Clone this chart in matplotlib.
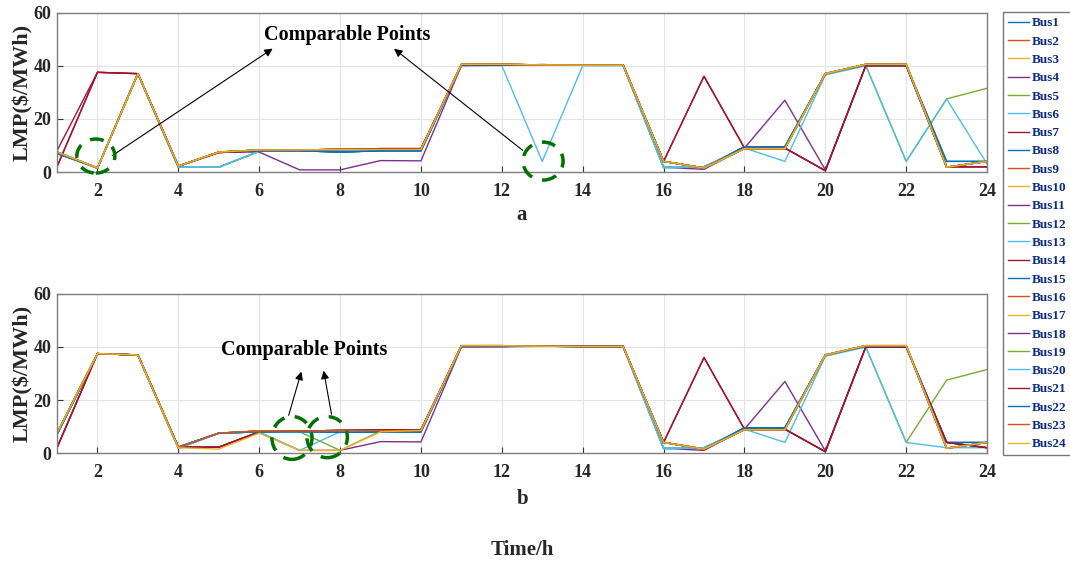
import matplotlib
matplotlib.use("Agg")
import matplotlib.pyplot as plt
from matplotlib.patches import Ellipse

plt.rcParams['font.family'] = ['Liberation Serif', 'DejaVu Serif']
plt.rcParams['font.weight'] = 'bold'

hours = list(range(1, 25))
bus_names = [f"Bus{i}" for i in range(1, 25)]
bus_colors = ['#0072BD', '#D95319', '#EDB120', '#7E2F8E', '#77AC30', '#4DBEEE', '#A2142F'] * 4
bus_colors = bus_colors[:24]

# ---- Panel a profiles (LMP, $/MWh, hours 1..24)
a_main   = [7.5, 1.5, 37.0, 2.2, 7.5, 8.3, 8.3, 8.5, 8.5, 8.5, 40.5, 40.5, 40.3, 40.2, 40.2, 4.0, 1.5, 8.8, 8.8, 37.0, 40.5, 40.5, 1.8, 4.0]
a_low5   = [7.5, 1.5, 37.0, 1.8, 1.8, 7.8, 8.3, 8.3, 8.3, 8.3, 40.3, 40.3, 40.3, 40.2, 40.2, 1.8, 2.0, 9.0, 9.0, 37.0, 40.3, 40.3, 1.8, 4.0]
a_blue18 = [7.0, 1.5, 37.0, 2.2, 7.5, 8.0, 8.0, 7.5, 8.0, 8.0, 40.3, 40.3, 40.3, 40.2, 40.2, 4.0, 1.5, 9.5, 9.5, 37.0, 40.3, 40.3, 1.8, 4.0]
a_dblue  = [7.0, 1.5, 37.0, 2.2, 7.5, 8.0, 8.0, 7.5, 8.0, 8.0, 40.3, 40.3, 40.3, 40.2, 40.2, 4.0, 1.5, 9.5, 9.5, 37.0, 40.3, 40.3, 4.0, 4.0]
a_red    = [2.0, 37.5, 37.0, 2.2, 7.3, 8.0, 8.3, 8.5, 8.8, 8.8, 40.2, 40.2, 40.4, 40.2, 40.2, 4.0, 36.0, 9.0, 9.0, 0.5, 40.0, 40.0, 2.0, 2.0]
a_red2   = [8.0, 37.5, 37.0, 2.2, 7.3, 8.0, 8.3, 8.5, 8.8, 8.8, 40.2, 40.2, 40.4, 40.2, 40.2, 4.0, 1.5, 9.0, 9.0, 0.5, 40.0, 40.0, 2.0, 2.0]
a_purple = [7.5, 1.5, 37.0, 2.2, 7.5, 7.5, 0.8, 0.8, 4.3, 4.2, 40.0, 40.2, 40.3, 40.2, 40.2, 1.8, 1.0, 9.0, 27.0, 0.8, 40.0, 40.0, 2.0, 2.0]
a_cyan   = [7.5, 1.5, 37.0, 1.8, 1.8, 7.8, 8.3, 8.0, 8.3, 8.3, 40.0, 40.0, 4.0, 40.0, 40.0, 1.5, 2.0, 9.0, 4.0, 36.5, 40.0, 4.0, 27.5, 3.0]
a_green  = [7.5, 1.5, 37.0, 1.8, 1.8, 7.8, 8.3, 8.5, 8.5, 8.5, 40.5, 40.5, 40.3, 40.2, 40.2, 1.8, 2.0, 9.0, 9.0, 37.0, 40.0, 4.0, 27.5, 31.5]

profiles_a = {'main': a_main, 'low5': a_low5, 'blue18': a_blue18, 'dblue': a_dblue,
              'red': a_red, 'red2': a_red2, 'purple': a_purple, 'cyan': a_cyan, 'green': a_green}
bus_profile_a = ['blue18', 'main', 'low5', 'purple', 'green', 'cyan', 'red', 'dblue',
                 'main', 'low5', 'main', 'low5', 'low5', 'red2', 'dblue', 'main',
                 'main', 'main', 'main', 'low5', 'red', 'blue18', 'main', 'main']

# ---- Panel b profiles
b_main   = [7.5, 37.5, 37.0, 2.2, 7.5, 8.3, 8.3, 8.5, 8.5, 8.5, 40.5, 40.5, 40.3, 40.2, 40.2, 4.0, 1.5, 8.8, 8.8, 37.0, 40.5, 40.5, 1.8, 4.0]
b_low4   = [7.5, 37.5, 37.0, 1.8, 7.5, 8.0, 8.0, 8.0, 8.3, 8.3, 40.3, 40.3, 40.3, 40.2, 40.2, 1.8, 2.0, 9.0, 9.0, 37.0, 40.3, 40.3, 1.8, 4.0]
b_blue18 = [7.0, 37.5, 37.0, 2.2, 7.5, 8.0, 8.0, 7.8, 8.0, 8.0, 40.3, 40.3, 40.3, 40.2, 40.2, 4.0, 1.5, 9.5, 9.5, 37.0, 40.3, 40.3, 1.8, 4.0]
b_dblue  = [7.0, 37.5, 37.0, 2.2, 7.5, 8.0, 8.0, 7.8, 8.0, 8.0, 40.3, 40.3, 40.3, 40.2, 40.2, 4.0, 1.5, 9.5, 9.5, 37.0, 40.3, 40.3, 4.0, 4.0]
b_red    = [2.0, 37.5, 37.0, 2.2, 2.2, 8.0, 8.3, 8.5, 8.8, 8.8, 40.2, 40.2, 40.4, 40.2, 40.2, 4.0, 36.0, 9.0, 9.0, 0.5, 40.0, 40.0, 4.0, 2.0]
b_red2   = [2.0, 37.5, 37.0, 2.2, 2.2, 8.0, 8.3, 8.5, 8.8, 8.8, 40.2, 40.2, 40.4, 40.2, 40.2, 4.0, 1.5, 9.0, 9.0, 0.5, 40.0, 40.0, 4.0, 2.0]
b_purple = [7.5, 37.5, 37.0, 2.2, 2.2, 7.8, 1.0, 1.0, 4.3, 4.2, 40.0, 40.2, 40.3, 40.2, 40.2, 1.8, 1.0, 9.0, 27.0, 0.8, 40.0, 40.0, 4.0, 2.0]
b_cyan   = [7.5, 37.5, 37.0, 1.8, 7.5, 8.0, 1.0, 8.0, 8.3, 8.3, 40.0, 40.0, 40.3, 40.0, 40.0, 1.5, 2.0, 9.0, 4.0, 36.5, 40.0, 4.0, 2.0, 2.0]
b_green  = [7.5, 37.5, 37.0, 1.8, 7.5, 8.0, 8.0, 1.0, 8.3, 8.3, 40.3, 40.3, 40.3, 40.2, 40.2, 1.8, 2.0, 9.0, 9.0, 37.0, 40.0, 4.0, 27.5, 31.5]
b_yellow = [7.5, 37.5, 37.0, 2.0, 1.5, 7.5, 1.0, 1.0, 8.0, 8.5, 40.5, 40.5, 40.3, 40.2, 40.2, 4.0, 1.5, 8.8, 8.8, 37.0, 40.5, 40.5, 1.8, 4.0]

profiles_b = {'main': b_main, 'low4': b_low4, 'blue18': b_blue18, 'dblue': b_dblue,
              'red': b_red, 'red2': b_red2, 'purple': b_purple, 'cyan': b_cyan,
              'green': b_green, 'yellow': b_yellow}
bus_profile_b = ['blue18', 'main', 'main', 'purple', 'green', 'cyan', 'red', 'dblue',
                 'main', 'main', 'main', 'low4', 'low4', 'red2', 'dblue', 'main',
                 'main', 'main', 'main', 'low4', 'red', 'blue18', 'main', 'yellow']

xticks = list(range(2, 25, 2))
yticks = [0, 20, 40, 60]
annot_text = "Comparable Points"

fig = plt.figure(figsize=(10.70, 5.66), dpi=100)
ax_a = fig.add_axes([0.0533, 0.6961, 0.8692, 0.2818])
ax_b = fig.add_axes([0.0533, 0.1996, 0.8692, 0.2810])

def style(ax):
    ax.set_xlim(1, 24)
    ax.set_ylim(0, 60)
    ax.set_xticks(xticks)
    ax.set_yticks(yticks)
    ax.grid(True, color='#E3E3E3', linewidth=0.8)
    ax.set_axisbelow(True)
    ax.tick_params(direction='in', length=4, color='#333333', labelsize=13)
    ax.tick_params(axis='x', pad=8)
    ax.tick_params(axis='y', pad=4)
    for lab in ax.get_xticklabels() + ax.get_yticklabels():
        lab.set_fontweight('bold')
        lab.set_color('#262626')
    for s in ax.spines.values():
        s.set_color('#7F7F7F')
        s.set_linewidth(1.0)
    ax.set_ylabel("LMP($/MWh)", fontsize=16, fontweight='bold', color='#262626')
    ax.yaxis.set_label_coords(-0.026, 0.5)

lines = []
for i in range(24):
    l, = ax_a.plot(hours, profiles_a[bus_profile_a[i]], color=bus_colors[i], lw=1.0, label=bus_names[i])
    lines.append(l)
    ax_b.plot(hours, profiles_b[bus_profile_b[i]], color=bus_colors[i], lw=1.0)

style(ax_a)
style(ax_b)

ax_a.text(0.5, -0.27, "a", transform=ax_a.transAxes, ha='center', va='center', fontsize=15, fontweight='bold', color='#262626')
ax_b.text(0.5, -0.29, "b", transform=ax_b.transAxes, ha='center', va='center', fontsize=15, fontweight='bold', color='#262626')
fig.text(0.488, 1 - 550/566, "Time/h", ha='center', va='center', fontsize=15, fontweight='bold', color='#262626')

# annotations panel a
ax_a.text(8.17, 51.5, annot_text, ha='center', va='center', fontsize=14.5, fontweight='bold')
arrow_kw = dict(arrowstyle='-|>', color='black', lw=0.8, mutation_scale=12)
ax_a.annotate("", xy=(6.39, 47.0), xytext=(2.31, 5.6), arrowprops=arrow_kw)
ax_a.annotate("", xy=(9.28, 47.0), xytext=(12.57, 7.5), arrowprops=arrow_kw)
for (cx, cy, w, h) in [(1.96, 6.0, 0.94, 12.8), (13.02, 4.1, 0.99, 14.3)]:
    ax_a.add_patch(Ellipse((cx, cy), w, h, fill=False, edgecolor='#007000', lw=2.5,
                           linestyle=(0, (4, 3)), clip_on=False, zorder=5))

# annotations panel b
ax_b.text(7.11, 38.8, annot_text, ha='center', va='center', fontsize=14.5, fontweight='bold')
ax_b.annotate("", xy=(7.06, 31.7), xytext=(6.71, 13.2), arrowprops=arrow_kw)
ax_b.annotate("", xy=(7.58, 32.1), xytext=(7.80, 13.6), arrowprops=arrow_kw)
for (cx, cy, w, h) in [(6.81, 5.7, 0.99, 16.2), (7.68, 6.0, 1.0, 15.5)]:
    ax_b.add_patch(Ellipse((cx, cy), w, h, fill=False, edgecolor='#007000', lw=2.5,
                           linestyle=(0, (4, 3)), clip_on=False, zorder=5))

leg = fig.legend(handles=lines, loc='upper left', bbox_to_anchor=(0.9374, 0.978),
                 frameon=True, fancybox=False, edgecolor='#555555',
                 handlelength=1.6, handletextpad=0.2, labelspacing=0.46,
                 borderpad=0.35, borderaxespad=0.0, prop={'weight': 'bold', 'size': 9.5})
leg.get_frame().set_linewidth(1.0)
for t in leg.get_texts():
    t.set_color('#0B2A8C')

fig.savefig("out.png", dpi=100)
